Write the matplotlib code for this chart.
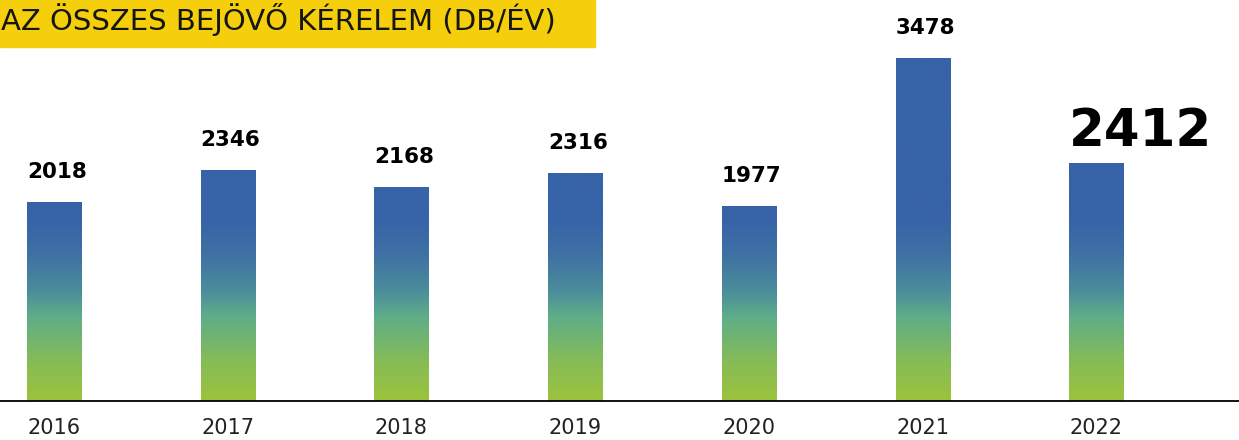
import numpy as np
import matplotlib
matplotlib.use("Agg")
import matplotlib.pyplot as plt
from matplotlib.colors import LinearSegmentedColormap, Normalize
from matplotlib.patches import Rectangle

years = ["2016", "2017", "2018", "2019", "2020", "2021", "2022"]
requests = [2018, 2346, 2168, 2316, 1977, 3478, 2412]
title = "AZ ÖSSZES BEJÖVŐ KÉRELEM (DB/ÉV)"

ymax = 4071
# gradient is fixed in value space: lime at zero, solid blue from ~1850 up
stops = [(0, "#9cc33c"), (400, "#86bb57"), (840, "#5fae88"), (1120, "#4a8c9b"),
         (1480, "#3f71a4"), (1850, "#3763a8"), (ymax, "#3763a8")]
grad = LinearSegmentedColormap.from_list("bg", [(v / ymax, c) for v, c in stops])

fig = plt.figure(figsize=(12.39, 4.40), dpi=100)
ax = fig.add_axes([0, 39 / 440, 1, 401 / 440])

x = np.arange(len(years))
w = 0.311
bars = ax.bar(x, requests, width=w, color="none", edgecolor="none")
g = np.linspace(0, ymax, 800).reshape(-1, 1)
for b in bars:
    im = ax.imshow(g, cmap=grad, norm=Normalize(0, ymax), origin="lower",
                   extent=[-0.5, len(years), 0, ymax], aspect="auto",
                   interpolation="bilinear")
    im.set_clip_path(b)

for i, v in enumerate(requests):
    last = i == len(requests) - 1
    ax.annotate(str(v), (x[i] - w / 2, v), xytext=(0, 17 if last else 24),
                textcoords="offset pixels", ha="left", va="baseline",
                fontsize=37 if last else 15.5, fontweight="bold", color="black")

ax.set_xlim(-0.311, 6.822)
ax.set_ylim(0, ymax)
ax.set_xticks(x)
ax.set_xticklabels(years, fontsize=15, color="#222222")
ax.tick_params(axis="x", length=0, pad=12)
ax.set_yticks([])
for s in ["top", "left", "right"]:
    ax.spines[s].set_visible(False)
ax.spines["bottom"].set_linewidth(1.3)
ax.spines["bottom"].set_color("black")

fig.patches.append(Rectangle((0, 1 - 47 / 440), 595 / 1239, 47 / 440,
                             transform=fig.transFigure, color="#f5cf0c", zorder=0))
fig.text(1 / 1239, 1 - 20 / 440, title, fontsize=21, va="center", ha="left",
         color="#151515")

fig.savefig("out.png", dpi=100)
